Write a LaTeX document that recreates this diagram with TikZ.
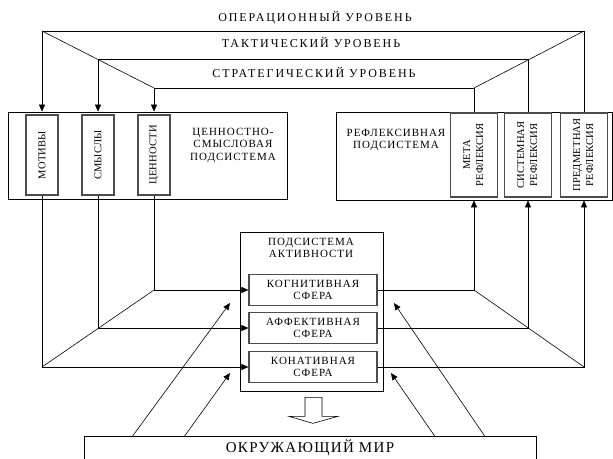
\documentclass[tikz,border=0pt]{standalone}
\usepackage{fontspec}
\usepackage{graphicx}
\setmainfont{Liberation Serif}
\newfontfamily\lvlfont[LetterSpace=16]{Liberation Serif}
\newfontfamily\boxfont[LetterSpace=9]{Liberation Serif}
\newfontfamily\vertfont[LetterSpace=2]{Liberation Serif}
\usetikzlibrary{arrows.meta}
\tikzset{
  >={Triangle[length=7pt,width=6pt]},
  lvl/.style={font=\lvlfont\fontsize{12}{14}\selectfont,inner sep=0,anchor=base},
  bigbox/.style={draw,line width=.7pt,inner sep=0},
  inbox/.style={draw=black!70,line width=1.2pt,inner sep=0,minimum width=128,
    minimum height=31,align=center,font=\boxfont\fontsize{11}{12.5}\selectfont},
  vbox/.style={draw=black!70,line width=1.2pt,inner sep=0,minimum width=32,
    minimum height=80,font=\vertfont\fontsize{10.5}{13}\selectfont},
  wbox/.style={draw=black!70,line width=1.2pt,inner sep=0,minimum width=47,
    minimum height=84,font=\vertfont\fontsize{10.5}{13}\selectfont},
  txt/.style={inner sep=0,align=center,font=\boxfont\fontsize{11}{12.5}\selectfont},
  conn/.style={line width=.6pt}
}
\begin{document}
\begin{tikzpicture}[x=1pt,y=-1pt]
  \useasboundingbox (0,0) rectangle (613,458);
  \clip (0,0) rectangle (613,458);
  % levels
  \node[lvl] (oper) at (315,21) {ОПЕРАЦИОННЫЙ УРОВЕНЬ};
  \node[lvl] (takt) at (311,47) {ТАКТИЧЕСКИЙ УРОВЕНЬ};
  \node[lvl] (strat) at (314,77) {СТРАТЕГИЧЕСКИЙ УРОВЕНЬ};
  \coordinate (ol) at (42,31);
  \coordinate (or) at (584,31);
  \coordinate (tl) at (98,59);
  \coordinate (tr) at (528,59);
  \coordinate (sl) at (154,88);
  \coordinate (sr) at (474,88);
  % subsystems
  \node[bigbox,minimum width=279,minimum height=87] (valsys) at (147.5,155.5) {};
  \node[vbox] (motives) at (42,155) {\rotatebox{90}{МОТИВЫ}};
  \node[vbox] (smysly) at (98,155) {\rotatebox{90}{СМЫСЛЫ}};
  \node[vbox] (tsennosti) at (154,155) {\rotatebox{90}{ЦЕННОСТИ}};
  \node[txt] (valtxt) at (233,145.5) {ЦЕННОСТНО-\\СМЫСЛОВАЯ\\ПОДСИСТЕМА};
  \node[bigbox,minimum width=276,minimum height=88] (reflsys) at (474,156) {};
  \node[wbox] (meta) at (474,155)
    {\rotatebox{90}{\begin{tabular}{@{}c@{}}МЕТА\\РЕФЛЕКСИЯ\end{tabular}}};
  \node[wbox] (sist) at (528,155)
    {\rotatebox{90}{\begin{tabular}{@{}c@{}}СИСТЕМНАЯ\\РЕФЛЕКСИЯ\end{tabular}}};
  \node[wbox] (pred) at (584,155)
    {\rotatebox{90}{\begin{tabular}{@{}c@{}}ПРЕДМЕТНАЯ\\РЕФЛЕКСИЯ\end{tabular}}};
  \node[txt] (refltxt) at (396,140) {РЕФЛЕКСИВНАЯ\\ПОДСИСТЕМА};
  \node[bigbox,minimum width=143,minimum height=159] (act) at (311.5,311.5) {};
  \node[txt] (acttxt) at (311,248) {ПОДСИСТЕМА\\АКТИВНОСТИ};
  \node[inbox] (cogn) at (313,290) {КОГНИТИВНАЯ\\СФЕРА};
  \node[inbox] (aff) at (313,328) {АФФЕКТИВНАЯ\\СФЕРА};
  \node[inbox] (kon) at (313,367) {КОНАТИВНАЯ\\СФЕРА};
  \node[bigbox,anchor=north,minimum width=452,inner ysep=6pt,text height=10pt,
    text depth=3pt,font=\boxfont\fontsize{15}{17}\selectfont] (world) at (310,436)
    {ОКРУЖАЮЩИЙ МИР};
  % top frame
  \draw[conn] (ol) -- (or);
  \draw[conn] (tl) -- (tr);
  \draw[conn] (sl) -- (sr);
  \draw[conn] (ol) -- (sl);
  \draw[conn] (or) -- (sr);
  \draw[conn,->] (ol) -- (ol |- valsys.north);
  \draw[conn,->] (tl) -- (tl |- valsys.north);
  \draw[conn,->] (sl) -- (sl |- valsys.north);
  \draw[conn] (sr) -- (meta.north);
  \draw[conn] (tr) -- (sist.north);
  \draw[conn] (or) -- (pred.north);
  % bottom frame
  \draw[conn,->] (motives.south) |- (kon.west);
  \draw[conn,->] (smysly.south) |- (aff.west);
  \draw[conn,->] (tsennosti.south) |- (cogn.west);
  \draw[conn] (tsennosti |- cogn) -- (motives |- kon);
  \draw[conn,->] (cogn.east) -| (meta |- reflsys.south);
  \draw[conn,->] (aff.east) -| (sist |- reflsys.south);
  \draw[conn,->] (kon.east) -| (pred |- reflsys.south);
  \draw[conn] (meta |- cogn) -- (pred |- kon);
  % world
  \coordinate (c1) at (230,303);
  \coordinate (c2) at (230,373);
  \coordinate (c3) at (391,373);
  \coordinate (c4) at (394,303);
  \draw[conn,->] ([xshift=49pt]world.north west) -- (c1);
  \draw[conn,->] ([xshift=101pt]world.north west) -- (c2);
  \draw[conn,->] ([xshift=351pt]world.north west) -- (c3);
  \draw[conn,->] ([xshift=401pt]world.north west) -- (c4);
  \draw[conn] ([xshift=-6.5pt,yshift=-6pt]act.south) -- ++(0,19) -- ++(-16,0)
    -- ++(24,7) -- ++(25,-7) -- ++(-16,0) -- ++(0,-19) -- cycle;
\end{tikzpicture}
\end{document}
